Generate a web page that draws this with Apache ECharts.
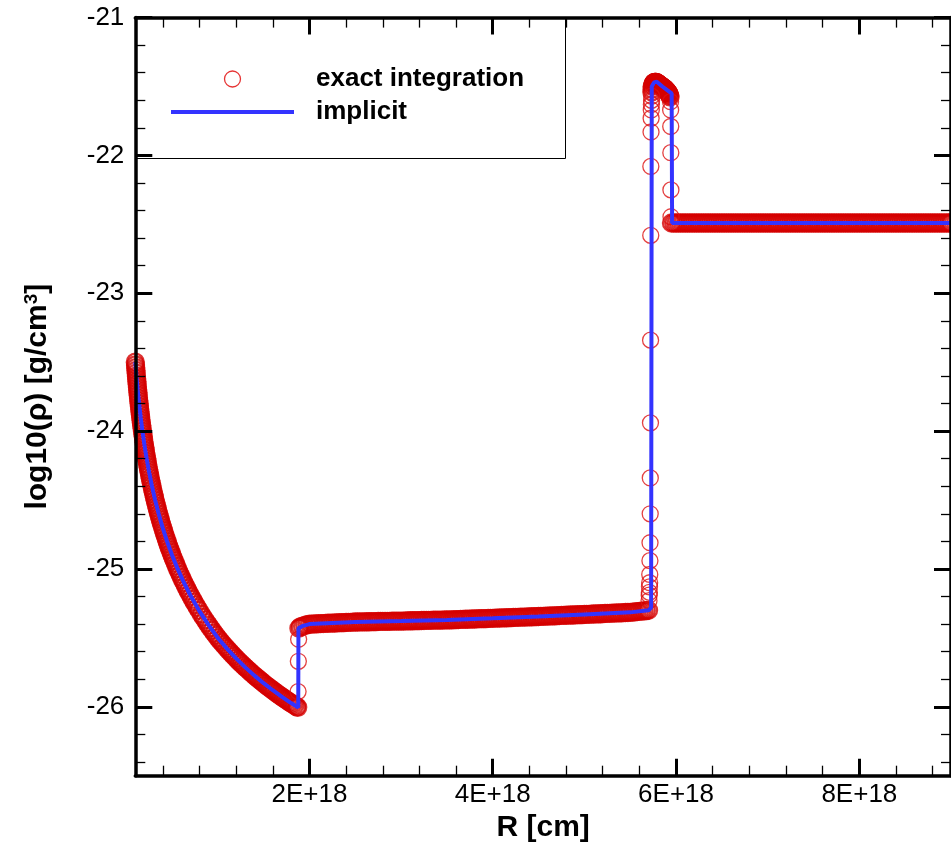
<!DOCTYPE html>
<html>
<head>
<meta charset="utf-8">
<script src="https://cdn.jsdelivr.net/npm/echarts@6/dist/echarts.min.js"></script>
<style>html,body{margin:0;padding:0;background:#fff}#c{width:951px;height:848px}</style>
</head>
<body>
<div id="c"></div>
<script>
// R in units of 1e18 cm, density as log10(rho)
const xMajorTicks = [2, 4, 6, 8];
const xMinorTicks = [0.4, 0.8, 1.2, 1.6, 2.4, 2.8, 3.2, 3.6, 4.4, 4.8, 5.2, 5.6, 6.4, 6.8, 7.2, 7.6, 8.4, 8.8];
const yMajorTicks = [-26, -25, -24, -23, -22, -21];
const yMinorTicks = [-26.4, -26.2, -25.8, -25.6, -25.4, -25.2, -24.8, -24.6, -24.4, -24.2, -23.8, -23.6, -23.4, -23.2, -22.8, -22.6, -22.4, -22.2, -21.8, -21.6, -21.4, -21.2];

const windExact = [
[0.1000,-23.50],[0.1023,-23.52],[0.1047,-23.54],[0.1072,-23.56],[0.1096,-23.58],[0.1122,-23.60],[0.1148,-23.62],[0.1175,-23.64],[0.1202,-23.66],[0.1230,-23.68],
[0.1259,-23.70],[0.1288,-23.72],[0.1318,-23.74],[0.1349,-23.76],[0.1380,-23.78],[0.1413,-23.80],[0.1445,-23.82],[0.1479,-23.84],[0.1514,-23.86],[0.1549,-23.88],
[0.1585,-23.90],[0.1622,-23.92],[0.1660,-23.94],[0.1698,-23.96],[0.1738,-23.98],[0.1778,-24.00],[0.1820,-24.02],[0.1862,-24.04],[0.1905,-24.06],[0.1950,-24.08],
[0.1995,-24.10],[0.2042,-24.12],[0.2089,-24.14],[0.2138,-24.16],[0.2188,-24.18],[0.2239,-24.20],[0.2291,-24.22],[0.2344,-24.24],[0.2399,-24.26],[0.2455,-24.28],
[0.2512,-24.30],[0.2570,-24.32],[0.2630,-24.34],[0.2692,-24.36],[0.2754,-24.38],[0.2818,-24.40],[0.2884,-24.42],[0.2951,-24.44],[0.3020,-24.46],[0.3090,-24.48],
[0.3162,-24.50],[0.3236,-24.52],[0.3311,-24.54],[0.3388,-24.56],[0.3467,-24.58],[0.3548,-24.60],[0.3631,-24.62],[0.3715,-24.64],[0.3802,-24.66],[0.3890,-24.68],
[0.3981,-24.70],[0.4074,-24.72],[0.4169,-24.74],[0.4266,-24.76],[0.4365,-24.78],[0.4467,-24.80],[0.4571,-24.82],[0.4677,-24.84],[0.4786,-24.86],[0.4898,-24.88],
[0.5012,-24.90],[0.5129,-24.92],[0.5248,-24.94],[0.5370,-24.96],[0.5495,-24.98],[0.5623,-25.00],[0.5754,-25.02],[0.5888,-25.04],[0.6026,-25.06],[0.6166,-25.08],
[0.6310,-25.10],[0.6457,-25.12],[0.6607,-25.14],[0.6761,-25.16],[0.6918,-25.18],[0.7079,-25.20],[0.7244,-25.22],[0.7413,-25.24],[0.7586,-25.26],[0.7762,-25.28],
[0.7943,-25.30],
[0.82,-25.328],[0.84,-25.349],[0.86,-25.369],[0.88,-25.389],[0.90,-25.408],[0.92,-25.428],[0.94,-25.446],[0.96,-25.465],[0.98,-25.482],[1.00,-25.500],
[1.02,-25.516],[1.04,-25.532],[1.06,-25.548],[1.08,-25.563],[1.10,-25.578],[1.12,-25.593],[1.14,-25.607],[1.16,-25.622],[1.18,-25.635],[1.20,-25.649],
[1.22,-25.663],[1.24,-25.676],[1.26,-25.689],[1.28,-25.701],[1.30,-25.714],[1.32,-25.726],[1.34,-25.738],[1.36,-25.750],[1.38,-25.762],[1.40,-25.774],
[1.42,-25.785],[1.44,-25.796],[1.46,-25.807],[1.48,-25.818],[1.50,-25.829],[1.52,-25.840],[1.54,-25.850],[1.56,-25.860],[1.58,-25.870],[1.60,-25.880],
[1.62,-25.890],[1.64,-25.900],[1.66,-25.910],[1.68,-25.919],[1.70,-25.928],[1.72,-25.938],[1.74,-25.947],[1.76,-25.956],[1.78,-25.965],[1.80,-25.973],
[1.82,-25.982],[1.84,-25.991],[1.86,-25.999],[1.872,-26.004]
];

const jump1Exact = [[1.876,-25.89],[1.879,-25.67],[1.882,-25.51]];

const plateauExact = [
[1.885,-25.43],[1.900,-25.420],[1.925,-25.415],[1.950,-25.410],[1.975,-25.405],[2.000,-25.400],
[2.025,-25.400],[2.050,-25.399],[2.075,-25.398],[2.100,-25.397],[2.125,-25.396],[2.150,-25.396],[2.175,-25.395],[2.200,-25.394],[2.225,-25.393],[2.250,-25.393],
[2.275,-25.392],[2.300,-25.391],[2.325,-25.390],[2.350,-25.390],[2.375,-25.389],[2.400,-25.388],[2.425,-25.387],[2.450,-25.387],[2.475,-25.386],[2.500,-25.385],
[2.525,-25.385],[2.550,-25.384],[2.575,-25.384],[2.600,-25.384],[2.625,-25.383],[2.650,-25.383],[2.675,-25.382],[2.700,-25.382],[2.725,-25.382],[2.750,-25.381],
[2.775,-25.381],[2.800,-25.381],[2.825,-25.380],[2.850,-25.380],[2.875,-25.380],[2.900,-25.379],[2.925,-25.379],[2.950,-25.379],[2.975,-25.378],[3.000,-25.378],
[3.025,-25.378],[3.050,-25.377],[3.075,-25.377],[3.100,-25.376],[3.125,-25.376],[3.150,-25.375],[3.175,-25.375],[3.200,-25.375],[3.225,-25.374],[3.250,-25.374],
[3.275,-25.373],[3.300,-25.373],[3.325,-25.373],[3.350,-25.372],[3.375,-25.372],[3.400,-25.371],[3.425,-25.371],[3.450,-25.371],[3.475,-25.370],[3.500,-25.370],
[3.525,-25.369],[3.550,-25.369],[3.575,-25.368],[3.600,-25.368],[3.625,-25.367],[3.650,-25.366],[3.675,-25.366],[3.700,-25.365],[3.725,-25.365],[3.750,-25.364],
[3.775,-25.363],[3.800,-25.363],[3.825,-25.362],[3.850,-25.361],[3.875,-25.361],[3.900,-25.360],[3.925,-25.360],[3.950,-25.359],[3.975,-25.359],[4.000,-25.358],
[4.025,-25.357],[4.050,-25.357],[4.075,-25.356],[4.100,-25.355],[4.125,-25.355],[4.150,-25.354],[4.175,-25.353],[4.200,-25.353],[4.225,-25.352],[4.250,-25.351],
[4.275,-25.351],[4.300,-25.350],[4.325,-25.350],[4.350,-25.349],[4.375,-25.348],[4.400,-25.348],[4.425,-25.347],[4.450,-25.346],[4.475,-25.346],[4.500,-25.345],
[4.525,-25.344],[4.550,-25.344],[4.575,-25.343],[4.600,-25.342],[4.625,-25.341],[4.650,-25.341],[4.675,-25.340],[4.700,-25.339],[4.725,-25.338],[4.750,-25.337],
[4.775,-25.337],[4.800,-25.336],[4.825,-25.335],[4.850,-25.334],[4.875,-25.334],[4.900,-25.333],[4.925,-25.332],[4.950,-25.331],[4.975,-25.331],[5.000,-25.330],
[5.025,-25.329],[5.050,-25.329],[5.075,-25.328],[5.100,-25.327],[5.125,-25.326],[5.150,-25.326],[5.175,-25.325],[5.200,-25.324],[5.225,-25.323],[5.250,-25.322],
[5.275,-25.322],[5.300,-25.321],[5.325,-25.320],[5.350,-25.319],[5.375,-25.319],[5.400,-25.318],[5.425,-25.317],[5.450,-25.316],[5.475,-25.316],[5.500,-25.315],
[5.525,-25.313],[5.550,-25.311],[5.575,-25.309],[5.600,-25.308],[5.625,-25.306],[5.650,-25.304],[5.675,-25.302],[5.700,-25.300]
];

const jump2Exact = [
[5.705,-25.23],[5.707,-25.19],[5.709,-25.17],[5.710,-25.13],[5.712,-25.10],[5.713,-25.04],[5.715,-24.94],[5.716,-24.81],[5.718,-24.60],[5.719,-24.34],
[5.721,-23.94],[5.722,-23.34],[5.724,-22.58],[5.725,-22.08],[5.727,-21.83],[5.728,-21.73],[5.730,-21.67],[5.731,-21.63],[5.733,-21.60],[5.734,-21.57]
];

const peakExact = [
[5.736,-21.54],[5.738,-21.52],[5.740,-21.50],
[5.745,-21.49],[5.750,-21.48],[5.755,-21.475],[5.760,-21.472],[5.765,-21.47],[5.770,-21.47],[5.775,-21.47],[5.780,-21.47],[5.785,-21.47],[5.790,-21.472],
[5.795,-21.475],[5.800,-21.477],[5.805,-21.48],[5.810,-21.482],[5.815,-21.485],[5.820,-21.487],[5.825,-21.49],[5.830,-21.492],[5.835,-21.495],[5.840,-21.497],
[5.845,-21.50],[5.850,-21.502],[5.855,-21.505],[5.860,-21.507],[5.865,-21.51],[5.870,-21.512],[5.875,-21.515],[5.880,-21.517],[5.885,-21.52],[5.890,-21.525],
[5.895,-21.53],[5.900,-21.532],[5.905,-21.535],[5.910,-21.54],[5.915,-21.545],[5.920,-21.55],[5.925,-21.555],[5.930,-21.565],[5.935,-21.575]
];

const descentExact = [[5.940,-21.61],[5.941,-21.67],[5.942,-21.79],[5.943,-21.98],[5.944,-22.25],[5.945,-22.445]];

const outerExact = [
[5.950,-22.49],[5.975,-22.49],[6.000,-22.49],[6.025,-22.49],[6.050,-22.49],[6.075,-22.49],[6.100,-22.49],[6.125,-22.49],[6.150,-22.49],[6.175,-22.49],
[6.200,-22.49],[6.225,-22.49],[6.250,-22.49],[6.275,-22.49],[6.300,-22.49],[6.325,-22.49],[6.350,-22.49],[6.375,-22.49],[6.400,-22.49],[6.425,-22.49],
[6.450,-22.49],[6.475,-22.49],[6.500,-22.49],[6.525,-22.49],[6.550,-22.49],[6.575,-22.49],[6.600,-22.49],[6.625,-22.49],[6.650,-22.49],[6.675,-22.49],
[6.700,-22.49],[6.725,-22.49],[6.750,-22.49],[6.775,-22.49],[6.800,-22.49],[6.825,-22.49],[6.850,-22.49],[6.875,-22.49],[6.900,-22.49],[6.925,-22.49],
[6.950,-22.49],[6.975,-22.49],[7.000,-22.49],[7.025,-22.49],[7.050,-22.49],[7.075,-22.49],[7.100,-22.49],[7.125,-22.49],[7.150,-22.49],[7.175,-22.49],
[7.200,-22.49],[7.225,-22.49],[7.250,-22.49],[7.275,-22.49],[7.300,-22.49],[7.325,-22.49],[7.350,-22.49],[7.375,-22.49],[7.400,-22.49],[7.425,-22.49],
[7.450,-22.49],[7.475,-22.49],[7.500,-22.49],[7.525,-22.49],[7.550,-22.49],[7.575,-22.49],[7.600,-22.49],[7.625,-22.49],[7.650,-22.49],[7.675,-22.49],
[7.700,-22.49],[7.725,-22.49],[7.750,-22.49],[7.775,-22.49],[7.800,-22.49],[7.825,-22.49],[7.850,-22.49],[7.875,-22.49],[7.900,-22.49],[7.925,-22.49],
[7.950,-22.49],[7.975,-22.49],[8.000,-22.49],[8.025,-22.49],[8.050,-22.49],[8.075,-22.49],[8.100,-22.49],[8.125,-22.49],[8.150,-22.49],[8.175,-22.49],
[8.200,-22.49],[8.225,-22.49],[8.250,-22.49],[8.275,-22.49],[8.300,-22.49],[8.325,-22.49],[8.350,-22.49],[8.375,-22.49],[8.400,-22.49],[8.425,-22.49],
[8.450,-22.49],[8.475,-22.49],[8.500,-22.49],[8.525,-22.49],[8.550,-22.49],[8.575,-22.49],[8.600,-22.49],[8.625,-22.49],[8.650,-22.49],[8.675,-22.49],
[8.700,-22.49],[8.725,-22.49],[8.750,-22.49],[8.775,-22.49],[8.800,-22.49],[8.825,-22.49],[8.850,-22.49],[8.875,-22.49],[8.900,-22.49],[8.925,-22.49],
[8.950,-22.49],[8.975,-22.49],[9.000,-22.49]
];

const implicitLine = [
[0.1000,-23.50],[0.1122,-23.60],[0.1259,-23.70],[0.1413,-23.80],[0.1585,-23.90],[0.1778,-24.00],[0.1995,-24.10],[0.2239,-24.20],[0.2512,-24.30],[0.2818,-24.40],
[0.3162,-24.50],[0.3548,-24.60],[0.3981,-24.70],[0.4467,-24.80],[0.5012,-24.90],[0.5623,-25.00],[0.6310,-25.10],[0.7079,-25.20],[0.7943,-25.30],[0.90,-25.408],
[1.00,-25.500],[1.10,-25.578],[1.20,-25.649],[1.30,-25.714],[1.40,-25.774],[1.50,-25.829],[1.60,-25.880],[1.70,-25.928],[1.80,-25.973],[1.878,-26.005],
[1.880,-25.43],[1.920,-25.415],[2.000,-25.400],[2.500,-25.385],[3.000,-25.378],[3.500,-25.370],[4.000,-25.358],[4.500,-25.345],[5.000,-25.330],[5.500,-25.315],
[5.700,-25.300],[5.728,-25.28],[5.735,-21.50],[5.760,-21.47],[5.790,-21.465],[5.850,-21.50],[5.900,-21.525],[5.952,-21.55],[5.957,-22.49],[9.000,-22.49]
];

const FONT = '"Liberation Sans", Arial, Helvetica, sans-serif';
const X_MIN = 0.1, X_MAX = 9, Y_MIN = -26.5, Y_MAX = -21;
const RED = '#d40000', BLUE = '#3333ff';

function tickAxis(dimX, pos, values, len, w, withLine, extra) {
  const a = {
    type: 'value', min: dimX ? X_MIN : Y_MIN, max: dimX ? X_MAX : Y_MAX, position: pos, z: 10,
    axisLine: { show: withLine, onZero: false, lineStyle: { color: '#000', width: 3.5 } },
    axisTick: { show: true, inside: true, length: len, customValues: values, lineStyle: { color: '#000', width: w } },
    axisLabel: { show: false },
    splitLine: { show: false },
    minorTick: { show: false },
    axisPointer: { show: false }
  };
  return Object.assign(a, extra || {});
}

// dense smooth segments vs. the sparse points inside the jumps
const denseExact = [].concat(windExact, plateauExact, peakExact, outerExact);
const sparseExact = [].concat(jump1Exact, jump2Exact, descentExact);

const chart = echarts.init(document.getElementById('c'), null, { renderer: 'canvas' });
chart.setOption({
  animation: false,
  backgroundColor: '#fff',
  textStyle: { fontFamily: FONT },
  grid: { left: 135.3, right: -7.2, top: 17.6, bottom: 72.3, containLabel: false },
  xAxis: [
    tickAxis(true, 'bottom', xMajorTicks, 17, 3, true, {
      axisLabel: { show: true, customValues: xMajorTicks, formatter: v => v + 'E+18', fontSize: 26, color: '#000', margin: 6, fontFamily: FONT },
      name: 'R [cm]', nameLocation: 'middle', nameGap: 36,
      nameTextStyle: { fontSize: 30, fontWeight: 'bold', color: '#000', fontFamily: FONT }
    }),
    tickAxis(true, 'bottom', xMinorTicks, 10, 1.3, false),
    tickAxis(true, 'top', xMajorTicks, 17, 3, true),
    tickAxis(true, 'top', xMinorTicks, 10, 1.3, false)
  ],
  yAxis: [
    tickAxis(false, 'left', yMajorTicks, 17, 3, true, {
      axisLabel: { show: true, customValues: yMajorTicks, formatter: v => String(v), fontSize: 26, color: '#000', margin: 11, fontFamily: FONT },
      name: 'log10(ρ) [g/cm{sup|3}]', nameLocation: 'middle', nameGap: 83, nameRotate: 90,
      nameTextStyle: { fontSize: 30, fontWeight: 'bold', color: '#000', fontFamily: FONT,
        rich: { sup: { fontSize: 19, fontWeight: 'bold', color: '#000', fontFamily: FONT, verticalAlign: 'top', lineHeight: 14 } } }
    }),
    tickAxis(false, 'left', yMinorTicks, 10, 1.3, false),
    tickAxis(false, 'right', yMajorTicks, 17, 3, true),
    tickAxis(false, 'right', yMinorTicks, 10, 1.3, false)
  ],
  legend: {
    left: 171, top: 66, orient: 'vertical', padding: 0,
    itemWidth: 123, itemHeight: 16, itemGap: 7, selectedMode: false,
    textStyle: { fontSize: 26, fontWeight: 'bold', color: '#000', fontFamily: FONT, padding: [0, 0, 0, 17] },
    data: [
      { name: 'exact integration', icon: 'circle', itemStyle: { color: 'rgba(0,0,0,0)', borderColor: '#e00000', borderWidth: 1.3 } },
      { name: 'implicit', icon: 'path://M0,0 L123,0 L123,4 L0,4 Z', itemStyle: { color: BLUE, borderWidth: 0 } }
    ]
  },
  graphic: [{
    type: 'rect', z: 1, silent: true,
    shape: { x: 135.5, y: 18, width: 430, height: 140.5 },
    style: { fill: 'none', stroke: '#000', lineWidth: 1 }
  }],
  series: [
    {
      type: 'scatter', name: 'exact integration', xAxisIndex: 0, yAxisIndex: 0,
      data: denseExact, symbol: 'circle', symbolSize: 17, silent: true, clip: false, z: 2,
      itemStyle: { color: 'rgba(0,0,0,0)', borderColor: RED, borderWidth: 2.3 }
    },
    {
      type: 'scatter', name: 'exact integration', xAxisIndex: 0, yAxisIndex: 0,
      data: sparseExact, symbol: 'circle', symbolSize: 16, silent: true, clip: false, z: 2,
      itemStyle: { color: 'rgba(0,0,0,0)', borderColor: '#dd1111', borderWidth: 1.3 }
    },
    {
      type: 'line', name: 'implicit', xAxisIndex: 0, yAxisIndex: 0,
      data: implicitLine, symbol: 'none', showSymbol: false, silent: true, z: 3,
      lineStyle: { color: BLUE, width: 4 }, itemStyle: { color: BLUE }
    }
  ]
});
</script>
</body>
</html>
